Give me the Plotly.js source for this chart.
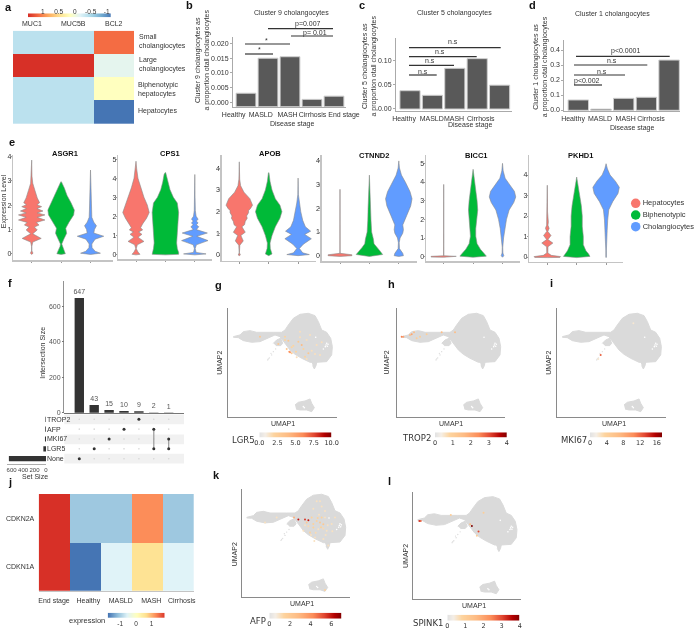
<!DOCTYPE html>
<html><head><meta charset="utf-8">
<script src="https://cdn.plot.ly/plotly-3.0.1.min.js"></script>
<style>html,body{margin:0;padding:0;background:#fff}.main-svg{will-change:transform}</style></head>
<body><div id="chart" style="width:700px;height:630px"></div>
<script>
// ---------- DATA ----------
const aCols = ['MUC1','MUC5B','BCL2'];
const aRows = ['Small','Large','Biphenotypic','Hepatocytes'];
const aZ = [[-0.38,-0.38,1.14],[1.46,1.46,-0.1],[-0.38,-0.38,0.17],[-0.38,-0.38,-1.125]];
const stages = ['Healthy','MASLD','MASH','Cirrhosis','End stage'];
const cluster9 = [0.0031,0.015,0.0155,0.001,0.0021];
const cluster5 = [0.0365,0.027,0.083,0.103,0.048];
const cluster1 = [0.067,0.006,0.078,0.085,0.333];

const violinColors = ['#F8766D','#00BA38','#619CFF'];
const cellNames = ['Hepatocytes','Biphenotypic','Cholangiocytes'];
// violin profiles: [expression level, relative half width]
const asgr1Hep = [[3.86,0],[3.2,.02],[2.9,.08],[2.6,.25],[2.3,.42],[2.1,.6],[2.02,.4],[1.94,.75],[1.86,.4],[1.76,.85],[1.68,.42],[1.6,1],[1.5,.42],[1.39,1],[1.29,.35],[1.18,.55],[1.1,.2],[.98,.42],[.82,.08],[.63,.72],[.48,.08],[.3,.01],[.12,.01],[.02,.1],[-.03,0]];
const asgr1Bip = [[2.97,.02],[2.7,.25],[2.4,.45],[2.1,.75],[1.8,1],[1.6,.95],[1.3,.6],[1.18,.45],[1.05,.35],[.84,.42],[.6,.2],[.4,.05],[.3,.08],[.1,.25],[0,.32],[-.03,0]];
const asgr1Cho = [[3.45,0],[2.9,.01],[2.5,.03],[2.2,.06],[1.8,.08],[1.5,.1],[1.3,.25],[1.15,.45],[1,.3],[.85,.25],[.72,1],[.6,.35],[.4,.1],[.25,.12],[.1,.35],[.02,.75],[-.03,0]];
const cps1Hep = [[4.9,0],[4.5,.05],[4,.15],[3.5,.35],[3,.6],[2.6,.85],[2.2,1],[1.9,.8],[1.6,.5],[1.4,.35],[1.28,.5],[1.18,.2],[1.05,.45],[.9,.15],[.68,.6],[.5,.1],[.3,.02],[.12,.15],[0,.3],[-.03,0]];
const cps1Bip = [[4.3,.02],[4.2,.1],[3.8,.2],[3.4,.35],[3,.6],[2.7,.9],[2.2,1],[1.6,.95],[1.2,.9],[.6,.85],[.3,.9],[.1,1],[0,1],[-.03,0]];
const cps1Cho = [[4.2,0],[3,.02],[2.3,.04],[2,.1],[1.85,.25],[1.75,.12],[1.65,.25],[1.55,.12],[1.45,.3],[1.3,.12],[1.12,.95],[.95,.15],[.72,1],[.5,.12],[.3,.03],[.1,.1],[.02,.85],[-.03,0]];
const apobHep = [[4.3,0],[3.5,.03],[3.2,.1],[2.9,.35],[2.6,.8],[2.3,1],[2.15,.85],[2.05,.7],[1.95,.7],[1.8,.55],[1.7,.6],[1.55,.45],[1.4,.4],[1.3,.2],[1.05,.45],[.9,.12],[.65,.3],[.45,.04],[.1,.01],[0,.08],[-.03,0]];
const apobBip = [[3.8,.02],[3.4,.1],[3,.25],[2.6,.5],[2.3,.85],[2,1],[1.7,.85],[1.3,.5],[.9,.25],[.55,.1],[.3,.12],[.05,.25],[-.03,0]];
const apobCho = [[3.55,0],[2.8,.02],[2.4,.1],[2,.2],[1.6,.35],[1.3,.55],[1.1,.95],[.95,.5],[.75,1],[.5,.4],[.3,.1],[.1,.35],[.02,.85],[-.03,0]];
const ctnnd2Hep = [[2.8,.005],[.1,.01],[.04,.9],[0,.9],[-.03,0]];
const ctnnd2Bip = [[3.4,0],[3,.04],[2.6,.08],[2,.1],[1.5,.12],[1,.17],[.7,.3],[.5,.35],[.35,.55],[.2,.8],[.05,1],[-.03,0]];
const ctnnd2Cho = [[4,0],[3.7,.05],[3.4,.2],[3.1,.5],[2.7,.85],[2.4,1],[2.1,.9],[1.7,.6],[1.3,.3],[1.1,.35],[.95,.3],[.75,.1],[.55,.03],[.3,.05],[.1,.3],[0,.35],[-.03,0]];
const bicc1Hep = [[3.87,.005],[.05,.01],[.02,.95],[-.02,.95],[-.03,0]];
const bicc1Bip = [[4.68,0],[4.2,.1],[3.6,.2],[3,.3],[2.5,.35],[2,.3],[1.5,.2],[1.1,.2],[.7,.3],[.4,.55],[.2,.8],[.03,1],[-.03,0]];
const bicc1Cho = [[5,0],[4.6,.05],[4.2,.2],[3.9,.5],[3.5,.9],[3.2,1],[2.9,.85],[2.5,.5],[2,.3],[1.5,.17],[1,.08],[.5,.02],[.2,.03],[.05,.1],[-.03,0]];
const pkhd1Hep = [[3.5,.005],[2.2,.02],[1.9,.04],[1.7,.08],[1.55,.05],[1.4,.14],[1.25,.04],[1.05,.28],[.85,.05],[.68,.42],[.5,.05],[.2,.04],[.08,.3],[.02,1],[-.02,.95],[-.03,0]];
const pkhd1Bip = [[3.9,0],[3.5,.1],[3,.25],[2.5,.35],[2,.42],[1.5,.42],[1,.5],[.6,.5],[.3,.7],[.15,.9],[.03,1],[-.03,0]];
const pkhd1Cho = [[4.55,0],[4.3,.1],[4,.3],[3.7,.7],[3.4,1],[3.1,.9],[2.7,.5],[2.3,.2],[1.8,.12],[1.3,.08],[.9,.03],[.3,.02],[0,.02],[-.03,0]];

const intersectionSizes = [647,43,15,10,9,2,1];
const setNames = ['TROP2','AFP','MKI67','LGR5','None'];
const setSizes = [10,13,18,46,647];
const matrixMembers = [[4],[3],[2],[1],[0],[1,3],[2,3]];

const jGenes = ['CDKN2A','CDKN1A'];
const jStages = ['End stage','Healthy','MASLD','MASH','Cirrhosis'];
const jZ = [[1.8,-1.1,-1.1,1.2,-1.1],[1.8,-1.8,-0.6,0.55,-0.6]];

// UMAP silhouette, in UMAP units; islands separated by null
const umapX = [15,35,45,65,85,110,135,160,170,180,195,215,240,260,270,280,295,307,312,310,295,265,245,220,200,185,170,155,140,115,95,70,45,30,15,null,135,145,157,163,157,143,null,250,265,263,258,253,null,200,210,230,245,250,258,250,235,215,203];
const umapY = [242,247,257,260,255,254,255,255,262,277,297,309,312,305,287,262,255,237,212,187,167,165,165,177,189,202,222,242,247,237,227,225,230,239,240,null,222,232,237,222,215,215,null,165,165,155,145,155,null,37,45,49,55,42,29,17,22,22,25];
const holeX = [293,297,295,291,299,225,228,262,285];
const holeY = [217,213,222,212,219,32,29,240,205];
const strayX = [130,123,120,135,128,142,118];
const strayY = [187,178,175,197,192,205,172];
const lgr5X = [183,180,210,220,240,195,230,95,170,190,185,175,203,245,265,215,150,275,235,205,225,250,260,170,235,215,280,190];
const lgr5Y = [197,230,227,217,192,215,182,242,242,192,195,205,197,247,217,257,220,187,232,180,205,200,190,232,175,240,225,210];
const lgr5V = [6,3,3,4,3,2,2,3,2,3,5.5,3,2,1.5,1.5,1.5,3,1.5,1.5,1.5,2,1.5,1.5,2,1.5,1.5,1.5,2];
const trop2X = [45,40,52,20,15,60,70,135,90,175];
const trop2Y = [249,247,255,242,242,237,242,255,249,255];
const trop2V = [2,1.5,1.5,2,2.5,1,1,1.5,1,1.5];
const mki67X = [130,123,228];
const mki67Y = [187,175,282];
const mki67V = [12,2,2];
const afpX = [170,190,200,157,225,235,245,215,230,205,185,255,240,280,225,220,245,260,250,105,70,195,210,250,250,235,215,228,238,200,222,208,258,270,232,245,215,190,272,252,218,240];
const afpY = [235,235,233,241,231,226,221,211,206,196,201,201,241,241,291,181,176,156,21,241,226,226,241,261,241,291,222,240,212,215,195,188,218,222,250,208,268,218,200,188,170,275];
const afpV = [6,5.5,6,3,1.5,2,2,1.5,1,1.5,1,1,1.5,1,1,1,1,1,1.5,1,1,2,1.5,1,1,1,1.5,1.5,1.5,1.2,1.2,1,1,1,1,1.2,1,1,1,1,1,1];
const spink1X = [20,24,114,177,197,172,212,192];
const spink1Y = [238,238,256,223,206,228,263,193];
const spink1V = [3.2,2.8,1,4,3,1.5,1,1];

// ---------- HELPERS ----------
const W = 700, H = 630;
const FONT = 'Liberation Sans, Arial, sans-serif';
const TXT = '#333333';
const traces = [], shapes = [], annotations = [];
const layout = {width:W,height:H,margin:{l:0,r:0,t:0,b:0},paper_bgcolor:'#fff',plot_bgcolor:'rgba(0,0,0,0)',
  showlegend:false,hovermode:false,font:{family:FONT,size:7,color:TXT},shapes,annotations};
let axisN = 0;
function axes(x0,x1,y0,y1,xo,yo){
  axisN++;
  const s = axisN===1?'':String(axisN);
  const base = {showgrid:false,zeroline:false,automargin:false,ticks:'',showline:false,showticklabels:false,fixedrange:true,tickangle:0,tickfont:{size:7,color:TXT,family:FONT}};
  layout['xaxis'+s] = Object.assign({},base,{domain:[x0/W,x1/W],anchor:'y'+s},xo||{});
  layout['yaxis'+s] = Object.assign({},base,{domain:[1-y1/H,1-y0/H],anchor:'x'+s},yo||{});
  return {xaxis:'x'+s,yaxis:'y'+s};
}
function note(x,y,text,o){
  annotations.push(Object.assign({x:x/W,y:1-y/H,xref:'paper',yref:'paper',text,showarrow:false,xanchor:'center',yanchor:'middle',align:'center',
    font:{size:7,color:TXT,family:FONT}},o||{}));
}
function rule(x0,x1,y,color,width){
  shapes.push({type:'line',xref:'paper',yref:'paper',x0:x0/W,x1:x1/W,y0:1-y/H,y1:1-y/H,line:{color:color||'#333',width:width||1.2}});
}
function letter(x,y,t){ note(x,y,t,{font:{size:11,color:'#111',family:FONT,weight:700}}); }
function strip(x0,x1,y0,y1,a,b,tickvals,ticktext,scale,top,font){
  const ref = axes(x0,x1,y0,y1,{range:[a,b],tickvals,ticktext,showticklabels:true,side:top?'top':'bottom',ticks:'',ticklabelstandoff:top?-3:0,
    tickfont:font||{size:6.5,color:TXT,family:FONT}},{range:[0,1]});
  const lo = Math.min(a,b), hi = Math.max(a,b);
  traces.push(Object.assign({type:'heatmap',x:[lo,hi],y:[0,1],z:[[lo,hi],[lo,hi]],
    zmin:lo,zmax:hi,zsmooth:'best',colorscale:scale,showscale:false,hoverinfo:'skip'},ref));
}

// ---------- a ----------
const rdylbu = [[0,'#4575b4'],[.125,'#74add1'],[.25,'#abd9e9'],[.375,'#e0f3f8'],[.5,'#ffffbf'],[.625,'#fee090'],[.75,'#fdae61'],[.875,'#f46d43'],[1,'#d73027']];
{
  const r = axes(13,134,30.7,124,{range:[-.5,2.5]},{range:[3.5,-.5]});
  traces.push(Object.assign({type:'heatmap',x:[0,1,2],y:[0,1,2,3],z:aZ,zmin:-1.125,zmax:1.46,colorscale:rdylbu,showscale:false,hoverinfo:'skip'},r));
  [32,73,114].forEach((x,i)=>note(x,24,aCols[i]));
  note(137,42,'Small<br>cholangiocytes',{xanchor:'left',align:'left'});
  note(137,65,'Large<br>cholangiocytes',{xanchor:'left',align:'left'});
  note(136,90,'Biphenotypic<br>hepatocytes',{xanchor:'left',align:'left'});
  note(136,111,'Hepatocytes',{xanchor:'left',align:'left'});
  strip(28,110.7,13.3,17.3,1.46,-1.125,[1,.5,0,-.5,-1],['1','0.5','0','-0.5','-1'],rdylbu,true);
}
// ---------- b c d ----------
function barPanel(o){
  const sp = o.centers[1]-o.centers[0];
  const toX = p=>(p-o.centers[0])/sp;
  const r = axes(o.x0,o.x1,o.top,o.base,{
      range:[toX(o.x0),toX(o.x1)],tickvals:o.labelPx.map(toX),ticktext:stages,showticklabels:true,showline:true,linecolor:'#aaa',linewidth:1,
      ticks:'outside',ticklen:1,tickcolor:'rgba(0,0,0,0)'},
    {range:[(o.zero-o.base)/o.unit,(o.zero-o.top)/o.unit],tickvals:o.ticks,ticktext:o.ticks.map(v=>v.toFixed(o.dec)),showticklabels:true,showline:true,linecolor:'#aaa',linewidth:1,ticks:'outside',ticklen:2,tickcolor:'#aaa'});
  const bottom = o.barBase;
  traces.push(Object.assign({type:'bar',x:[0,1,2,3,4],y:o.values.map(v=>v-bottom),base:bottom,width:.9,
    marker:{color:'#595959',line:{color:'#cfcfcf',width:1}},hoverinfo:'skip'},r));
  note(o.titleX,o.titleY,o.title);
  note(o.xtX,o.xtY,'Disease stage');
  note(o.ytX,o.ytY,o.yt,{textangle:-90});
  o.rules.forEach(q=>rule(q[0],q[1],q[2]));
  o.labels.forEach(q=>note(q[0],q[1],q[2]));
}
barPanel({x0:233,x1:346,top:36.7,base:107,zero:102.3,unit:14.7/0.005,centers:[246,268,290,312,334],
  labelPx:[233.7,260.7,287.5,312.5,344],values:cluster9,barBase:-0.0015,ticks:[0,.005,.01,.015,.02],dec:3,
  title:'Cluster 9 cholangocytes',titleX:291,titleY:13,xtX:292,xtY:124,ytX:201.5,ytY:60,yt:'Cluster 9 cholangiocytes as<br>a proportion otall cholangiocytes',
  rules:[[268,333,28.7],[291,333,36],[245,290,44],[245,273,54]],
  labels:[[308,24,'p=0.007'],[315,33,'p= 0.01'],[266,41,'*'],[259,50,'*']]});
barPanel({x0:396,x1:512,top:38,base:111,zero:108.3,unit:24.1/0.05,centers:[410,432.4,454.8,477.2,499.6],
  labelPx:[404,431.7,454,480.7,515],values:cluster5,barBase:-0.0015,ticks:[0,.05,.1],dec:2,
  title:'Cluster 5 cholangocytes',titleX:454,titleY:13,xtX:470,xtY:125,ytX:369.5,ytY:66,yt:'Cluster 5 cholangiocytes as<br>a proportion otall cholangiocytes',
  rules:[[409,500.7,47.7],[409,476.7,56.7],[409,454,65.3],[409,436.7,75]],
  labels:[[452.7,42,'n.s'],[440,51,'n.s'],[430,61,'n.s'],[423,71,'n.s']]});
barPanel({x0:564.3,x1:680,top:40,base:111,zero:110,unit:15/0.1,centers:[578.3,601,624,646.8,669.5],
  labelPx:[573,600,625.7,651,684],values:cluster1,barBase:-0.002,ticks:[0,.1,.2,.3,.4],dec:1,
  title:'Cluster 1 cholangocytes',titleX:612,titleY:14,xtX:631.7,xtY:128,ytX:540.5,ytY:66.7,yt:'Cluster 1 cholangiocytes as<br>a proportion otall cholangiocytes',
  rules:[[576,669.7,56.3],[574,647.3,65],[574,625,75],[574,602,85]],
  labels:[[625,51,'p<0.0001'],[612,61,'n.s'],[601.7,71,'n.s'],[587,81,'p<0.002']]});

// ---------- e ----------
const violinPanels = [
 {t:'ASGR1',x0:13.3,x1:113,zero:253.7,unit:24.25,base:260,c0:31.7,tx:65,ty:153,yt:[0,1,2,3,4],p:[asgr1Hep,asgr1Bip,asgr1Cho]},
 {t:'CPS1',x0:118.3,x1:212,zero:254.3,unit:19,base:259.3,c0:136,tx:170,ty:153,yt:[0,1,2,3,4,5],p:[cps1Hep,cps1Bip,cps1Cho]},
 {t:'APOB',x0:221.7,x1:315.7,zero:255,unit:21.67,base:260.7,c0:239.3,tx:270,ty:153,yt:[0,1,2,3,4],p:[apobHep,apobBip,apobCho]},
 {t:'CTNND2',x0:321.7,x1:417,zero:255.7,unit:23.7,base:261,c0:340,tx:374,ty:155,yt:[0,1,2,3,4],p:[ctnnd2Hep,ctnnd2Bip,ctnnd2Cho]},
 {t:'BICC1',x0:426,x1:520,zero:256.7,unit:18.67,base:261,c0:443.7,tx:476.7,ty:155,yt:[0,1,2,3,4,5],p:[bicc1Hep,bicc1Bip,bicc1Cho]},
 {t:'PKHD1',x0:529.3,x1:623,zero:257,unit:20.5,base:261.7,c0:547.3,tx:580,ty:155,yt:[0,1,2,3,4],p:[pkhd1Hep,pkhd1Bip,pkhd1Cho]}
];
violinPanels.forEach(v=>{
  const sp = 29.4, top = 155;
  const r = axes(v.x0,v.x1,top,v.base,
    {range:[(v.x0-v.c0)/sp,(v.x1-v.c0)/sp],showline:true,linecolor:'#c4c4c4',linewidth:1.5,tickvals:[0,1,2],ticks:'outside',ticklen:1.5,tickcolor:'#999'},
    {range:[(v.zero-v.base)/v.unit,(v.zero-top)/v.unit],showline:true,linecolor:'#c4c4c4',linewidth:1.5,tickvals:v.yt,showticklabels:true,ticks:'outside',ticklen:1,tickcolor:'#999',ticklabelstandoff:-2,tickfont:{size:7,color:TXT,family:FONT}});
  v.p.forEach((prof,i)=>{
    const ys = prof.map(q=>q[0]), ws = prof.map(q=>q[1]*0.45);
    traces.push(Object.assign({type:'scatter',mode:'lines',fill:'toself',fillcolor:violinColors[i],
      x:ws.map(w=>i-w).concat(ws.slice().reverse().map(w=>i+w)),
      y:ys.concat(ys.slice().reverse()),
      line:{color:'#8a8a8a',width:.6},hoverinfo:'skip',cliponaxis:false},r));
  });
  note(v.tx,v.ty,v.t,{font:{size:7.5,color:'#111',family:FONT,weight:700}});
});
note(3.5,201.7,'Expression Level',{textangle:-90,font:{size:7,color:TXT,family:FONT}});
{
  const r = axes(628,700,197,233,{range:[628,700]},{range:[233,197]});
  traces.push(Object.assign({type:'scatter',mode:'markers+text',x:[635.7,635.7,635.7],y:[203.3,215,226.7],text:cellNames,textposition:'middle right',
    textfont:{size:7.5,color:TXT,family:FONT},marker:{size:9.5,color:violinColors},hoverinfo:'skip',cliponaxis:false},r));
}
// ---------- f ----------
{
  const c0=79.3, sp=14.9, x0=64.3, x1=184;
  const xr=[(x0-c0)/sp,(x1-c0)/sp];
  const r = axes(x0,x1,280.7,413,{range:xr,showline:true,linecolor:'#555',linewidth:.8},
    {range:[-1.5,744],tickvals:[0,200,400,600],showticklabels:true,showline:true,linecolor:'#777',linewidth:.8,ticks:'outside',ticklen:1.5,tickcolor:'#777',tickfont:{size:7,color:'#555',family:FONT}});
  traces.push(Object.assign({type:'bar',x:[0,1,2,3,4,5,6],y:intersectionSizes,width:.63,marker:{color:'#333'},text:intersectionSizes.map(String),
    textposition:'outside',constraintext:'none',textfont:{size:7,color:'#555',family:FONT},cliponaxis:false,hoverinfo:'skip'},r));
  note(43,352.7,'Intersection Size',{textangle:-90});
  // matrix
  [419.3,439.3,458.7].forEach(y=>shapes.push({type:'rect',xref:'paper',yref:'paper',layer:'below',x0:x0/W,x1:x1/W,y0:1-(y-4.9)/H,y1:1-(y+4.9)/H,fillcolor:'#f1f1f1',line:{width:0}}));
  const m = axes(x0,x1,414.4,463.6,{range:xr},{range:[4.5,-.5]});
  const gx=[],gy=[],dx=[],dy=[],lx=[],ly=[];
  matrixMembers.forEach((mem,c)=>{
    setNames.forEach((s,i)=>{gx.push(c);gy.push(i);});
    mem.forEach(i=>{dx.push(c);dy.push(i);});
    if(mem.length>1){lx.push(c,c,null);ly.push(Math.min(...mem),Math.max(...mem),null);}
  });
  traces.push(Object.assign({type:'scatter',mode:'markers',x:gx,y:gy,marker:{size:1.6,color:'#d6d6d6'},hoverinfo:'skip'},m));
  traces.push(Object.assign({type:'scatter',mode:'lines',x:lx,y:ly,line:{color:'#999',width:1.2},hoverinfo:'skip'},m));
  traces.push(Object.assign({type:'scatter',mode:'markers',x:dx,y:dy,marker:{size:3,color:'#333'},hoverinfo:'skip'},m));
  // set size
  const s = axes(7,46,414.4,463.6,{range:[680,0],tickvals:[600,400,200,0],showticklabels:true,showline:true,linecolor:'#999',linewidth:.8,ticks:'',tickfont:{size:6,color:'#444',family:FONT}},
    {range:[4.5,-.5],tickvals:[0,1,2,3,4],ticktext:setNames,showticklabels:true,side:'right',ticks:'',tickfont:{size:7,color:TXT,family:FONT}});
  traces.push(Object.assign({type:'bar',orientation:'h',x:setSizes,y:[0,1,2,3,4],width:.52,marker:{color:'#333'},hoverinfo:'skip'},s));
  note(34.7,476,'Set Size');
}
// ---------- g h i k l ----------
const orrd = [[0,'#e3e3e3'],[.08,'#f5efe6'],[.2,'#fdd49e'],[.4,'#fdbb84'],[.6,'#fc8d59'],[.75,'#e34a33'],[.9,'#b30000'],[1,'#7f0000']];
const STRIPFONT = {size:6.5,color:TXT,family:'DejaVu Sans, sans-serif'};
function umapPanel(o){
  const r = axes(o.x0,o.x1,o.y0,o.y1,{range:[0,325],showline:true,linecolor:'#8a8a8a',linewidth:1},{range:[0,327],showline:true,linecolor:'#8a8a8a',linewidth:1});
  traces.push(Object.assign({type:'scatter',mode:'lines',x:umapX,y:umapY,fill:'toself',fillcolor:'#dadada',line:{color:'#dadada',width:1},hoverinfo:'skip'},r));
  traces.push(Object.assign({type:'scatter',mode:'markers',x:holeX,y:holeY,marker:{size:1.6,color:'#fff'},hoverinfo:'skip'},r));
  traces.push(Object.assign({type:'scatter',mode:'markers',x:strayX,y:strayY,marker:{size:1.3,color:'#dadada'},hoverinfo:'skip'},r));
  traces.push(Object.assign({type:'scatter',mode:'markers',x:o.px,y:o.py,marker:{size:2,color:o.pv,cmin:o.smin,cmax:o.smax,colorscale:orrd,showscale:false},hoverinfo:'skip'},r));
  note(o.u1x,o.u1y,'UMAP1');
  note(o.u2x,o.u2y,'UMAP2',{textangle:-90});
  note(o.nx,o.ny,o.name,{font:{size:8.5,color:TXT,family:'DejaVu Sans, sans-serif'}});
  strip(o.sx0,o.sx1,o.sy0,o.sy1,o.smin,o.smax,o.stv,o.stt,orrd,false,STRIPFONT);
}
umapPanel({x0:228.3,x1:336.7,y0:308.3,y1:417.3,px:lgr5X,py:lgr5Y,pv:lgr5V,u1x:283.3,u1y:423.3,u2x:220,u2y:362.7,name:'LGR5',nx:243,ny:440,
  sx0:259.3,sx1:331.7,sy0:432.3,sy1:437.7,smin:0,smax:10,stv:[0,2.5,5,7.5,10],stt:['0.0','2.5','5.0','7.5','10.0']});
umapPanel({x0:396.7,x1:505,y0:308.3,y1:417.3,px:trop2X,py:trop2Y,pv:trop2V,u1x:451,u1y:423.3,u2x:386.7,u2y:362.7,name:'TROP2',nx:416,ny:438,
  sx0:435,sx1:506.7,sy0:432.3,sy1:437.7,smin:0,smax:4,stv:[0,1,2,3,4],stt:['0','1','2','3','4']});
umapPanel({x0:557.3,x1:665.7,y0:308.3,y1:417.3,px:mki67X,py:mki67Y,pv:mki67V,u1x:614,u1y:423.3,u2x:549,u2y:362.7,name:'MKI67',nx:574,ny:440,
  sx0:590,sx1:662.3,sy0:432.3,sy1:437.7,smin:0,smax:17.3,stv:[0,4,8,12,16],stt:['0','4','8','12','16']});
umapPanel({x0:241.7,x1:350,y0:489.3,y1:597,px:afpX,py:afpY,pv:afpV,u1x:301.7,u1y:603,u2x:234.3,u2y:554,name:'AFP',nx:257.7,ny:621,
  sx0:269.3,sx1:341.7,sy0:612.7,sy1:618.7,smin:0,smax:7,stv:[0,2,4,6],stt:['0','2','4','6']});
umapPanel({x0:412.7,x1:521.3,y0:491.7,y1:599.3,px:spink1X,py:spink1Y,pv:spink1V,u1x:474.3,u1y:605,u2x:405,u2y:556,name:'SPINK1',nx:428,ny:622.7,
  sx0:447.3,sx1:519.7,sy0:614.7,sy1:620.7,smin:0,smax:4,stv:[0,1,2,3,4],stt:['0','1','2','3','4']});
// ---------- j ----------
const jScale = [[0,'#4575b4'],[1/6,'#91bfdb'],[2/6,'#e0f3f8'],[.5,'#ffffbf'],[4/6,'#fee090'],[5/6,'#fc8d59'],[1,'#d73027']];
{
  const x0=38.7,x1=194,cw=(x1-x0)/5;
  const toX = p=>(p-x0)/cw-.5;
  const r = axes(x0,x1,494,590.7,{range:[-.5,4.5],tickvals:[54,88.3,120.7,151.3,181.7].map(toX),ticktext:jStages,showticklabels:true,showline:true,linecolor:'#c4c4c4',linewidth:1.2,ticks:'outside',ticklen:3,tickcolor:'rgba(0,0,0,0)'},
    {range:[1.5,-.5],tickvals:[0,1],ticktext:jGenes,showticklabels:true,ticks:'outside',ticklen:2,tickcolor:'rgba(0,0,0,0)'});
  traces.push(Object.assign({type:'heatmap',x:[0,1,2,3,4],y:[0,1],z:jZ,zmin:-1.8,zmax:1.8,colorscale:jScale,showscale:false,hoverinfo:'skip'},r));
  strip(107.7,164.7,612.7,618,-1.8,1.83,[-1,0,1],['-1','0','1'],jScale,false);
  note(87,620.7,'expression',{font:{size:7.5,color:TXT,family:FONT}});
}
// ---------- panel letters ----------
[[8,7,'a'],[189,5,'b'],[362,5,'c'],[532,5,'d'],[12,142,'e'],[10,283,'f'],[218,285,'g'],[391,284,'h'],[551,283,'i'],[10,482,'j'],[216,475,'k'],[389,481,'l']]
  .forEach(q=>letter(q[0],q[1],q[2]));

Plotly.newPlot('chart',traces,layout,{staticPlot:true,displayModeBar:false});
</script></body></html>
